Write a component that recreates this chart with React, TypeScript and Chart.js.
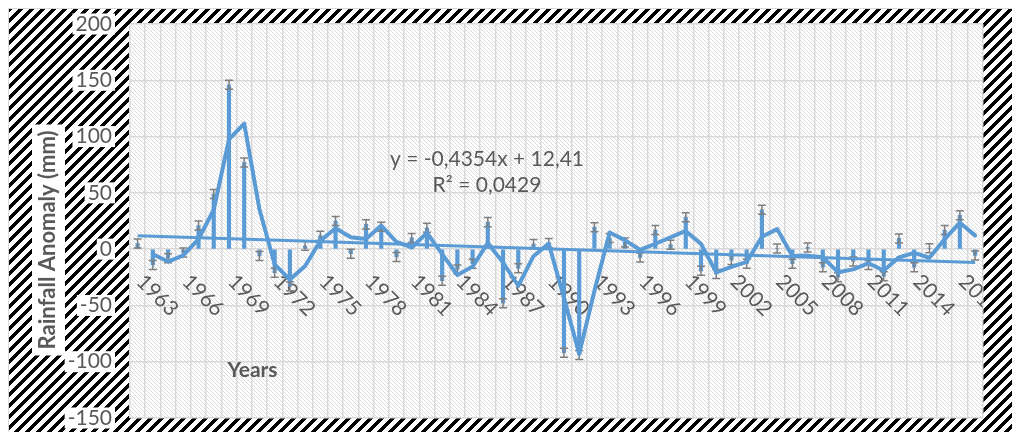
import React, { useEffect, useRef } from 'react';
import { Chart, registerables } from 'chart.js';

Chart.register(...registerables);

// ---------- data ----------
const years = [
  '1963', '1964', '1965', '1966', '1967', '1968', '1969', '1970', '1971', '1972',
  '1973', '1974', '1975', '1976', '1977', '1978', '1979', '1980', '1981', '1982',
  '1983', '1984', '1985', '1986', '1987', '1988', '1989', '1990', '1991', '1992',
  '1993', '1994', '1995', '1996', '1997', '1998', '1999', '2000', '2001', '2002',
  '2003', '2004', '2005', '2006', '2007', '2008', '2009', '2010', '2011', '2012',
  '2013', '2014', '2015', '2016', '2017', '2018',
];

const shownYearLabels = [
  '1963', '1966', '1969', '1972', '1975', '1978', '1981', '1984', '1987', '1990',
  '1993', '1996', '1999', '2002', '2005', '2008', '2011', '2014', '2017',
];

const rainfallAnomaly = [
  5, -14, -8, -3, 21, 49, 146, 77, -6, -21,
  -33, 3, 12, 25, -4, 22, 20, -7, 10, 19,
  -28, -18, -13, 24, -48, -17, 4.5, 5.4, -92, -94,
  19.5, 10, 6, -7.4, 17, 4, 28.4, -19.3, -22, -9.7,
  -13, 35, 0.6, -13, 1.5, -16, -25, -11, -14, -24,
  9.5, -16, 0.7, 17, 30, -5.6,
];

const errorAmount = 4;

const trendSlope = -0.4354;
const trendIntercept = 12.41;
const equationLines = ['y = -0,4354x + 12,41', 'R² = 0,0429'];

const yAxisTitle = 'Rainfall Anomaly (mm)';
const xAxisTitle = 'Years';

const yMin = -150;
const yMax = 200;
const yStep = 50;

// ---------- styles ----------
const BLUE = '#5B9BD5';
const TEXT = '#595959';
const GRID = '#D9D9D9';
const ERR = '#7F7F7F';
const FONT = 'Lato';

function makeHatch(ctx: CanvasRenderingContext2D): CanvasPattern | string {
  const c = document.createElement('canvas');
  const p = 11;
  c.width = p;
  c.height = p;
  const g = c.getContext('2d')!;
  g.fillStyle = '#ffffff';
  g.fillRect(0, 0, p, p);
  g.fillStyle = '#000000';
  for (let y = 0; y < p; y++) {
    for (let x = 0; x < p; x++) {
      if ((x + y) % p < 5) g.fillRect(x, y, 1, 1);
    }
  }
  return ctx.createPattern(c, 'repeat') || '#000';
}

function makeLight(ctx: CanvasRenderingContext2D): CanvasPattern | string {
  const c = document.createElement('canvas');
  const p = 4;
  c.width = p;
  c.height = p;
  const g = c.getContext('2d')!;
  g.fillStyle = '#ffffff';
  g.fillRect(0, 0, p, p);
  g.fillStyle = '#DCDCDC';
  for (let y = 0; y < p; y++) {
    for (let x = 0; x < p; x++) {
      if ((x - y + p * 4) % p === 0) g.fillRect(x, y, 1, 1);
    }
  }
  return ctx.createPattern(c, 'repeat') || '#fff';
}

export default function App() {
  const canvasRef = useRef<HTMLCanvasElement | null>(null);

  useEffect(() => {
    const canvas = canvasRef.current;
    if (!canvas) return;
    const ctx0 = canvas.getContext('2d')!;
    const hatch = makeHatch(ctx0);
    const light = makeLight(ctx0);

    const movingAverage = rainfallAnomaly.map((v, i) =>
      i === 0 ? null : (rainfallAnomaly[i - 1] + v) / 2
    );
    const n = years.length;
    const trendData = [
      { x: years[0], y: trendSlope * 1 + trendIntercept },
      { x: years[n - 1], y: trendSlope * n + trendIntercept },
    ];

    const backgroundPlugin = {
      id: 'bgPlugin',
      beforeDraw(chart: any) {
        const { ctx, width, height, chartArea: a } = chart;
        ctx.save();
        ctx.fillStyle = '#ffffff';
        ctx.fillRect(0, 0, width, height);
        ctx.fillStyle = hatch;
        ctx.fillRect(1, 1, width - 1, height - 1);
        ctx.strokeStyle = GRID;
        ctx.lineWidth = 1;
        ctx.strokeRect(0.5, 0.5, width + 5, height + 5);
        ctx.fillStyle = '#ffffff';
        ctx.fillRect(a.left, a.top, a.right - a.left, a.bottom - a.top);
        ctx.fillStyle = light;
        ctx.fillRect(a.left, a.top, a.right - a.left, a.bottom - a.top);

        // y axis title with white box
        ctx.font = `bold 22px ${FONT}`;
        const tw = ctx.measureText(yAxisTitle).width;
        const cx = 40;
        const cy = 232;
        ctx.fillStyle = '#ffffff';
        ctx.fillRect(cx - 16, cy - tw / 2 - 6, 33, tw + 12);
        ctx.translate(cx, cy);
        ctx.rotate(-Math.PI / 2);
        ctx.fillStyle = TEXT;
        ctx.textAlign = 'center';
        ctx.textBaseline = 'middle';
        ctx.fillText(yAxisTitle, 0, 0);
        ctx.restore();
      },
      beforeDatasetsDraw(chart: any) {
        const { ctx, height, chartArea: a } = chart;
        const xs = chart.scales.x;
        const ys = chart.scales.y;
        const y0 = ys.getPixelForValue(0) + 29;
        ctx.save();
        ctx.beginPath();
        ctx.rect(a.left, 0, a.right - a.left, height);
        ctx.clip();
        ctx.font = `21px ${FONT}`;
        ctx.fillStyle = TEXT;
        ctx.textAlign = 'left';
        ctx.textBaseline = 'middle';
        shownYearLabels.forEach((lbl) => {
          const idx = years.indexOf(lbl);
          const x = xs.getPixelForValue(idx) + 2.5;
          ctx.save();
          ctx.translate(x, y0);
          ctx.rotate(Math.PI / 4);
          ctx.fillText(lbl, 0, 0);
          ctx.restore();
        });
        ctx.restore();

        ctx.save();
        ctx.font = `bold 21px ${FONT}`;
        ctx.fillStyle = TEXT;
        ctx.textAlign = 'center';
        ctx.textBaseline = 'middle';
        ctx.fillText(xAxisTitle, a.left + 122.5, ys.getPixelForValue(-100) + 8.5);
        ctx.restore();
      },
      afterDatasetDraw(chart: any, args: any) {
        if (args.index !== 0) return;
        const { ctx } = chart;
        const ys = chart.scales.y;
        const meta = chart.getDatasetMeta(0);
        ctx.save();
        ctx.strokeStyle = ERR;
        ctx.lineWidth = 1.5;
        rainfallAnomaly.forEach((v, i) => {
          const el = meta.data[i];
          if (!el) return;
          const x = el.x;
          const yt = ys.getPixelForValue(v + errorAmount);
          const yb = ys.getPixelForValue(v - errorAmount);
          ctx.beginPath();
          ctx.moveTo(x, yt);
          ctx.lineTo(x, yb);
          ctx.moveTo(x - 4, yt);
          ctx.lineTo(x + 4, yt);
          ctx.moveTo(x - 4, yb);
          ctx.lineTo(x + 4, yb);
          ctx.stroke();
        });
        ctx.restore();
      },
      afterDraw(chart: any) {
        const { ctx } = chart;
        ctx.save();
        ctx.font = `21px ${FONT}`;
        ctx.fillStyle = TEXT;
        ctx.textAlign = 'center';
        ctx.textBaseline = 'middle';
        ctx.fillText(equationLines[0], 479, 151);
        ctx.fillText(equationLines[1], 479, 177);
        ctx.restore();
      },
    };

    const chart = new Chart(canvas, {
      type: 'bar',
      data: {
        labels: years,
        datasets: [
          {
            type: 'bar',
            label: 'Rainfall anomaly',
            data: rainfallAnomaly,
            backgroundColor: BLUE,
            borderWidth: 0,
            barThickness: 3.5,
            order: 3,
          },
          {
            type: 'line',
            label: '2 per. Mov. Avg.',
            data: movingAverage as any,
            borderColor: BLUE,
            borderWidth: 4,
            pointRadius: 0,
            tension: 0,
            fill: false,
            borderJoinStyle: 'round',
            borderCapStyle: 'round',
            order: 2,
          },
          {
            type: 'line',
            label: 'Linear trend',
            data: trendData as any,
            borderColor: BLUE,
            borderWidth: 3,
            pointRadius: 0,
            tension: 0,
            fill: false,
            order: 1,
          },
        ],
      },
      options: {
        responsive: false,
        animation: false,
        events: [],
        layout: {
          autoPadding: false,
          padding: { left: 0, top: 16, right: 29.3, bottom: 14 },
        },
        plugins: {
          legend: { display: false },
          tooltip: { enabled: false },
          title: { display: false },
        },
        scales: {
          x: {
            type: 'category',
            offset: true,
            ticks: { display: false },
            grid: { color: GRID, lineWidth: 1.5, drawTicks: false, offset: true },
            border: { display: false },
            afterFit: (s: any) => {
              s.height = 0;
              s.paddingLeft = 0;
              s.paddingRight = 0;
            },
          },
          y: {
            type: 'linear',
            min: yMin,
            max: yMax,
            ticks: {
              stepSize: yStep,
              font: { family: FONT, size: 21, lineHeight: 1 },
              color: TEXT,
              padding: 18,
              showLabelBackdrop: true,
              backdropColor: '#ffffff',
              backdropPadding: { top: 0, bottom: 0, left: 3, right: 3 },
            },
            grid: { color: GRID, lineWidth: 1.5, drawTicks: false },
            border: { display: false },
            afterFit: (s: any) => {
              s.width = 122;
              s.paddingTop = 0;
              s.paddingBottom = 0;
            },
          },
        },
      },
      plugins: [backgroundPlugin],
    } as any);

    return () => {
      chart.destroy();
    };
  }, []);

  return (
    <div style={{ position: 'fixed', left: 8, top: 8, width: 1004, height: 424 }}>
      <canvas ref={canvasRef} width={1004} height={424} style={{ display: 'block' }} />
    </div>
  );
}
